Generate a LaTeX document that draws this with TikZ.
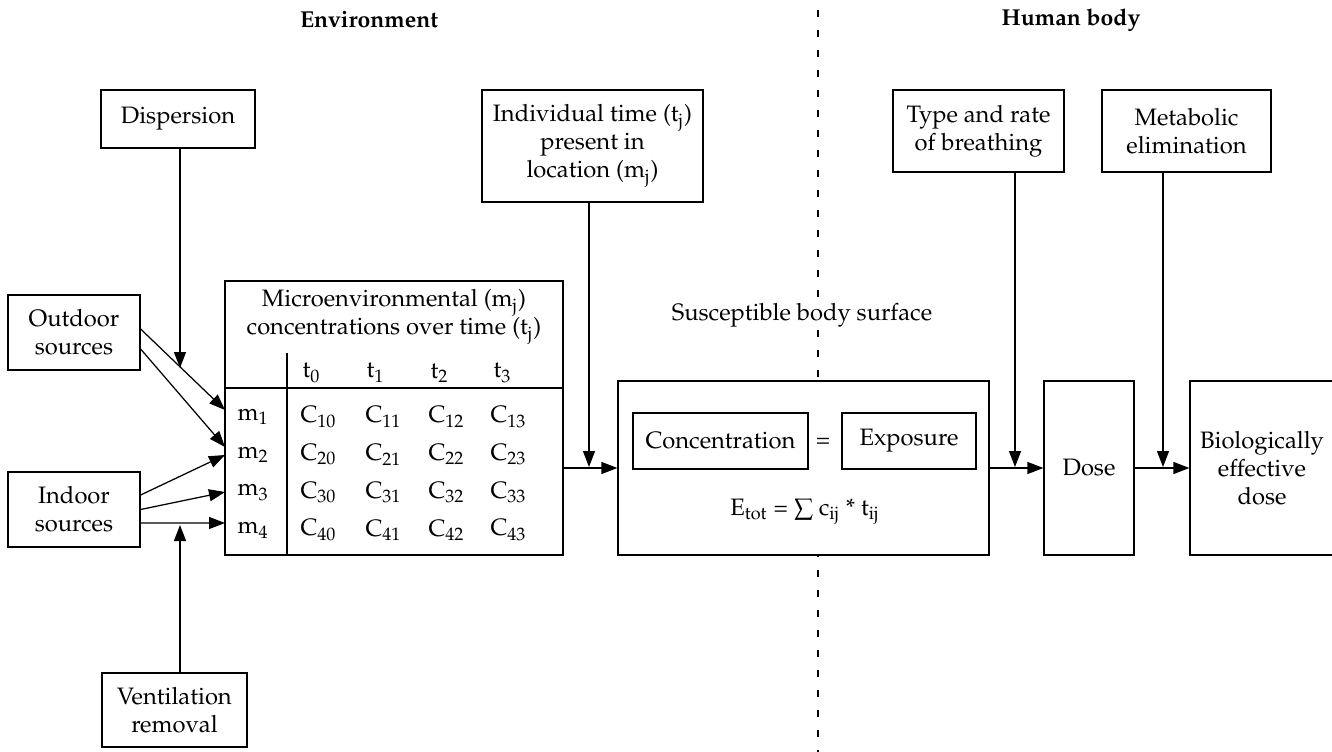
\documentclass[tikz,border=0pt]{standalone}
\usepackage[T1]{fontenc}
\usepackage{mathpazo}
\usetikzlibrary{arrows.meta,positioning}

\tikzset{
  box/.style={draw, fill=white, align=center, inner sep=0pt,
    font=\fontsize{9.5}{11.2}\selectfont},
  arr/.style={-{Triangle[length=6.4pt,width=4.8pt]}},
  head/.style={font=\fontsize{9.2}{11}\selectfont\bfseries},
  cell/.style={anchor=west, inner sep=0pt, font=\fontsize{9.5}{11.2}\selectfont},
  plain/.style={inner sep=1pt, align=center, font=\fontsize{9.5}{11.2}\selectfont},
  sepline/.style={dash pattern=on 2.8pt off 5.2pt},
}

\begin{document}
\begin{tikzpicture}[x=0.4pt, y=-0.4pt, line width=0.5pt]
  % --- FRAME ---
  \clip (0,0) rectangle (1332,752);

  % dividing line between the two halves
  \draw[sepline] (818,10) -- (818,752);
  \node[head] (envhead) at (369,20) {Environment};
  \node[head] (bodyhead) at (1071,20) {Human body};

  % --- ENVIRONMENT ---
  \node[box, minimum width=61.6pt, minimum height=23.2pt] (disp) at (178,119) {Dispersion};
  \node[box, minimum width=52.8pt, minimum height=30pt] (outdoor) at (74,332.5) {Outdoor\\sources};
  \node[box, minimum width=52.8pt, minimum height=30pt] (indoor) at (74,509.5) {Indoor\\sources};
  \node[box, minimum width=58pt, minimum height=29.6pt] (vent) at (174.5,710) {Ventilation\\removal};
  \node[box, minimum width=88.4pt, minimum height=44.8pt] (indiv) at (592.5,146)
    {Individual time (t$_\mathrm{j}$)\\present in\\location (m$_\mathrm{j}$)};

  % concentration table
  \node[box, minimum width=135.2pt, minimum height=109.6pt] (table) at (394,418) {};
  \node[plain] (tabhead) at (394,317)
    {Microenvironmental (m$_\mathrm{j}$)\\concentrations over time (t$_\mathrm{j}$)};
  \draw[line width=1pt] (225,388) -- (563,388);
  \draw (287,353) -- (287,555);
  \foreach \j/\x in {0/302,1/366,2/430,3/493}
    \node[cell] (t\j) at (\x,373) {t$_{\j}$};
  \foreach \i in {1,...,4} {
    \node[cell] (m\i) at (237,{379.3+37.7*\i}) {m$_{\i}$};
    \foreach \j/\x in {0/300,1/365,2/428,3/490}
      \node[cell] (c\i\j) at (\x,{379.3+37.7*\i}) {C$_{\i\j}$};
  }

  % inputs into the table
  \coordinate (r1) at (225,410);
  \coordinate (r2) at (225,447);
  \coordinate (r3) at (225,455);
  \coordinate (r4) at (225,492);
  \coordinate (r5) at (225,523);
  \coordinate (dispin) at (180,368);
  \coordinate (ventin) at (180,525);
  \draw[arr] ([yshift=1.4pt]outdoor.east) -- (r1);
  \draw[arr] ([yshift=-6.6pt]outdoor.east) -- (r2);
  \draw[arr] ([yshift=5.8pt]indoor.east) -- (r3);
  \draw[arr] (indoor.east) -- (r4);
  \draw[arr] ([yshift=-5.4pt]indoor.east) -- (r5);
  \draw[arr] (disp.south -| dispin) -- (dispin);
  \draw[arr] (vent.north -| ventin) -- (ventin);

  % --- EXPOSURE ---
  \node[box, minimum width=148.4pt, minimum height=69.6pt] (surface) at (803.5,468) {};
  \node[plain, fill=white] (susc) at (802,315) {Susceptible body surface};
  \node[box, minimum width=70pt, minimum height=22.4pt] (conc) at (720.5,441) {Concentration};
  \node[plain] (eq) at (823,443) {=};
  \node[box, minimum width=53.6pt, minimum height=22.4pt] (expo) at (909,441) {Exposure};
  \node[plain] (formula) at (805,512)
    {E$_\mathrm{tot}$ = $\sum$ c$_\mathrm{ij}$ * t$_\mathrm{ij}$};

  \coordinate (indivin) at (589,467);
  \draw[arr] (indiv.south -| indivin) -- (indivin);
  \draw[arr] (table.east |- surface.west) -- (surface.west);

  % --- HUMAN BODY ---
  \node[box, minimum width=36pt, minimum height=69.6pt] (dose) at (1089,468) {Dose};
  \node[box, minimum width=57.6pt, minimum height=69.6pt] (bio) at (1262,468)
    {Biologically\\effective\\dose};
  \node[box, minimum width=68.4pt, minimum height=32.8pt] (breath) at (978.5,131)
    {Type and rate\\of breathing};
  \node[box, minimum width=67.6pt, minimum height=32.8pt] (metab) at (1186.5,131)
    {Metabolic\\elimination};

  \coordinate (breathin) at (1015,467);
  \coordinate (metabin) at (1163,467);
  \draw[arr] (surface.east) -- (dose.west);
  \draw[arr] (dose.east) -- (bio.west);
  \draw[arr] (breath.south -| breathin) -- (breathin);
  \draw[arr] (metab.south -| metabin) -- (metabin);
\end{tikzpicture}
\end{document}
